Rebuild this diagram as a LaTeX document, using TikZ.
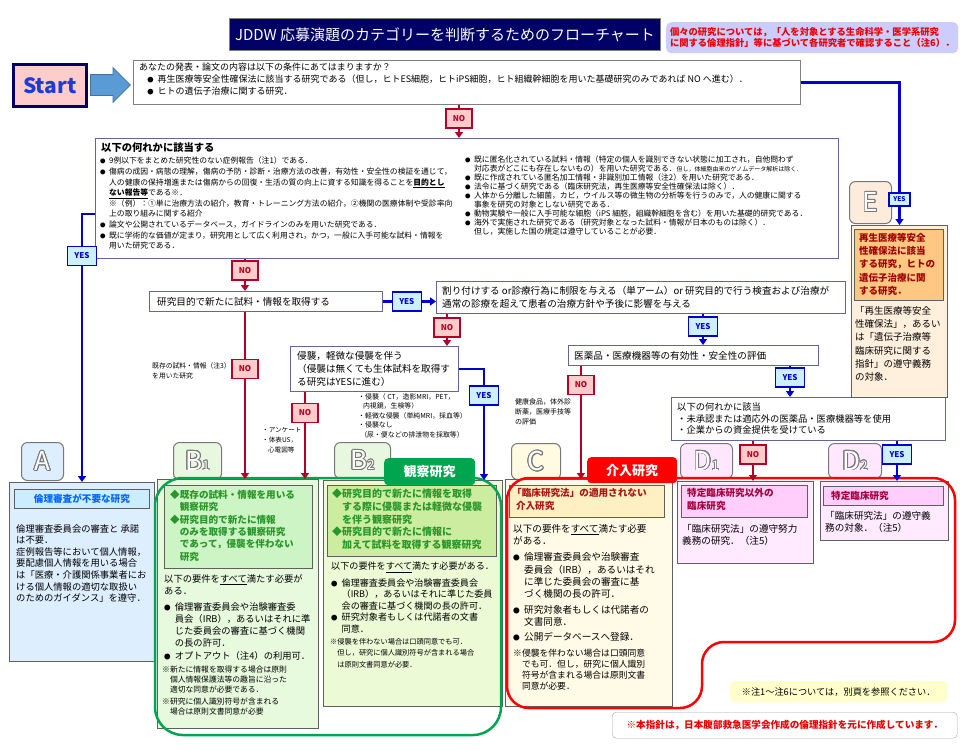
\documentclass[tikz,border=0pt]{standalone}
\usepackage{fontspec}
\setmainfont{Noto Sans CJK JP}
\usepackage{graphicx}
\usepackage{contour}
\usetikzlibrary{arrows.meta,shapes.arrows}
\contourlength{0.8pt}
\definecolor{navy}{RGB}{0,0,102}
\definecolor{startpink}{RGB}{255,204,204}
\definecolor{startblue}{RGB}{30,60,210}
\definecolor{notelav}{RGB}{204,204,255}
\definecolor{notered}{RGB}{235,0,0}
\definecolor{frame}{RGB}{100,100,160}
\definecolor{boxgray}{RGB}{128,128,128}
\definecolor{resgray}{RGB}{95,95,95}
\definecolor{tabgray}{RGB}{120,120,120}
\definecolor{nored}{RGB}{180,0,40}
\definecolor{nofill}{RGB}{255,204,204}
\definecolor{yesblue}{RGB}{0,0,210}
\definecolor{yesfill}{RGB}{204,240,255}
\definecolor{arrowblue}{RGB}{91,155,213}
\definecolor{arrowedge}{RGB}{65,113,156}
\definecolor{Atab}{RGB}{220,238,255}
\definecolor{Abox}{RGB}{221,238,255}
\definecolor{Ahead}{RGB}{204,236,255}
\definecolor{Atext}{RGB}{0,102,255}
\definecolor{Btab}{RGB}{232,248,224}
\definecolor{Bbox}{RGB}{232,250,222}
\definecolor{Bhead}{RGB}{204,244,196}
\definecolor{B2box}{RGB}{236,250,214}
\definecolor{B2head}{RGB}{204,236,160}
\definecolor{Btext}{RGB}{40,150,40}
\definecolor{Ctab}{RGB}{255,250,225}
\definecolor{Cbox}{RGB}{255,251,230}
\definecolor{Chead}{RGB}{255,240,196}
\definecolor{Ctext}{RGB}{170,20,20}
\definecolor{Dtab}{RGB}{255,232,255}
\definecolor{Dbox}{RGB}{255,234,255}
\definecolor{Dhead}{RGB}{255,206,250}
\definecolor{Dtext}{RGB}{160,0,60}
\definecolor{Etab}{RGB}{253,236,220}
\definecolor{Ebox}{RGB}{255,240,222}
\definecolor{Ehead}{RGB}{255,200,130}
\definecolor{Etext}{RGB}{160,0,0}
\definecolor{kgreen}{RGB}{0,165,80}
\definecolor{kred}{RGB}{255,0,0}
\definecolor{footy}{RGB}{255,255,204}
\newcommand{\fs}[2]{\fontsize{#1}{#2}\selectfont}
\newcommand{\bl}{\makebox[1.15em][l]{\scalebox{0.7}{●}}}
\newcommand{\ind}{\hspace*{1.15em}}
\newcommand{\dia}{\hspace*{1em}}
\newcommand{\tabl}[2]{\contour{tabgray}{#1{\fs{13}{13}#2}}}
\tikzset{
  box/.style={draw=frame, fill=white, line width=0.9pt, anchor=north west, inner sep=0pt},
  res/.style={draw=resgray, line width=1pt, anchor=north west, inner sep=0pt},
  head/.style={draw=resgray, line width=0.8pt, anchor=north west, inner sep=0pt},
  txt/.style={anchor=north west, inner sep=0pt, align=left},
  tab/.style={draw=tabgray, line width=1pt, rounded corners=6pt, anchor=north west, inner sep=0pt, text=white, font=\fs{26}{26}},
  nocon/.style={draw=nored, line width=2.4pt, -{Triangle[width=8pt,length=6pt]}},
  yescon/.style={draw=yesblue, line width=2.4pt, -{Triangle[width=8pt,length=6pt]}},
  nolab/.style={draw=nored, line width=1.4pt, fill=nofill, text=nored, font=\fs{8}{8}\bfseries, minimum width=26pt, minimum height=19pt, inner sep=0pt},
  yeslab/.style={draw=yesblue, line width=1.4pt, fill=yesfill, text=yesblue, font=\fs{8}{8}\bfseries, minimum width=29pt, minimum height=19pt, inner sep=0pt},
  side/.style={anchor=north west, inner sep=0pt, align=left, font=\fs{6.9}{9.5}}
}
\begin{document}
\begin{tikzpicture}[x=1pt,y=-1pt]
\useasboundingbox[fill=white] (0,0) rectangle (960,750);
% title, note, start
\node[anchor=north west, draw=boxgray, line width=1pt, fill=navy, minimum width=431pt, minimum height=32pt, inner sep=0pt, text=white, font=\fs{15}{15}] (title) at (229,18) {JDDW 応募演題のカテゴリーを判断するためのフローチャート};
\node[anchor=north west, fill=notelav, rounded corners=5pt, minimum width=292pt, minimum height=31pt, inner sep=0pt, text=notered, font=\fs{9.3}{11.5}\bfseries, align=left] (note) at (666,22) {個々の研究については，「人を対象とする生命科学・医学系研究\\に関する倫理指針」等に基づいて各研究者で確認すること（注6）．};
\node[anchor=north west, draw=navy, line width=2.5pt, fill=startpink, minimum width=73pt, minimum height=42pt, inner sep=0pt, text=startblue, font=\fs{21}{21}\bfseries] (start) at (12,63) {Start};
\node[single arrow, draw=arrowedge, fill=arrowblue, line width=0.8pt, minimum height=40pt, inner xsep=0pt, inner ysep=10pt, single arrow head extend=7pt, anchor=tail] (go) at (90,85) {};

% questions
\node[box, draw=boxgray, minimum width=667pt, minimum height=44pt] (q1) at (133,60) {};
\node[txt, font=\fs{9}{12}] (q1t) at (139,63) {あなたの発表・論文の内容は以下の条件にあてはまりますか？\\
\hspace*{0.9em}\bl 再生医療等安全性確保法に該当する研究である（但し，ヒトES細胞，ヒトiPS細胞，ヒト組織幹細胞を用いた基礎研究のみであれば NO へ進む）．\\
\hspace*{0.9em}\bl ヒトの遺伝子治療に関する研究．};

\node[box, line width=1.2pt, minimum width=743pt, minimum height=120pt] (big) at (95,138) {};
\node[txt, font=\fs{10.3}{10.3}\bfseries] (bigh) at (101,142) {以下の何れかに該当する};
\node[txt, font=\fs{7.8}{10.6}] (bigl) at (100,157) {\bl 9例以下をまとめた研究性のない症例報告（注1）である．\\
\bl 傷病の成因・病態の理解，傷病の予防・診断・治療方法の改善，有効性・安全性の検証を通じて，\\
\ind 人の健康の保持増進または傷病からの回復・生活の質の向上に資する知識を得ることを\underline{\textbf{目的とし}}\\
\ind \underline{\textbf{ない報告等}}である※．\\
\ind ※（例）：①単に治療方法の紹介，教育・トレーニング方法の紹介，②機関の医療体制や受診率向\\
\ind 上の取り組みに関する紹介\\
\bl 論文や公開されているデータベース，ガイドラインのみを用いた研究である．\\
\bl 既に学術的な価値が定まり，研究用として広く利用され，かつ，一般に入手可能な試料・情報を\\
\ind 用いた研究である．};
\node[txt, font=\fs{7.8}{9}] (bigr) at (465,156) {\bl 既に匿名化されている試料・情報（特定の個人を識別できない状態に加工され，自他問わず\\
\ind 対応表がどこにも存在しないもの）を用いた研究である．{\fs{6}{9}但し，体細胞由来のゲノムデータ解析は除く．}\\
\bl 既に作成されている匿名加工情報・非識別加工情報（注2）を用いた研究である．\\
\bl 法令に基づく研究である（臨床研究法，再生医療等安全性確保法は除く）．\\
\bl 人体から分離した細菌，カビ，ウイルス等の微生物の分析等を行うのみで，人の健康に関する\\
\ind 事象を研究の対象としない研究である．\\
\bl 動物実験や一般に入手可能な細胞（iPS 細胞，組織幹細胞を含む）を用いた基礎的研究である．\\
\bl 海外で実施された研究である（研究対象となった試料・情報が日本のものは除く）．\\
\ind 但し，実施した国の規定は遵守していることが必要．};

\node[box, minimum width=233pt, minimum height=20pt] (q2) at (149,291) {};
\node[anchor=west, inner sep=0pt, font=\fs{9.6}{9.6}] (q2t) at ([xshift=8pt]q2.west) {研究目的で新たに試料・情報を取得する};
\node[box, minimum width=409pt, minimum height=32pt] (q3) at (436,281) {};
\node[anchor=west, inner sep=0pt, align=left, font=\fs{9.6}{13}] (q3t) at ([xshift=6pt]q3.west) {割り付けする or診療行為に制限を与える（単アーム）or 研究目的で行う検査および治療が\\通常の診療を超えて患者の治療方針や予後に影響を与える};
\node[box, minimum width=168pt, minimum height=45pt] (q4) at (290,346) {};
\node[anchor=west, inner sep=0pt, align=left, font=\fs{9.6}{12.8}] (q4t) at ([xshift=7pt]q4.west) {侵襲，軽微な侵襲を伴う\\（侵襲は無くても生体試料を取得す\\る研究はYESに進む）};
\node[box, minimum width=250pt, minimum height=20pt] (q5) at (568,345) {};
\node[anchor=west, inner sep=0pt, font=\fs{9.6}{9.6}] (q5t) at ([xshift=6pt]q5.west) {医薬品・医療機器等の有効性・安全性の評価};
\node[box, minimum width=274pt, minimum height=43pt] (q6) at (671,397) {};
\node[anchor=west, inner sep=0pt, align=left, font=\fs{9.3}{11.5}] (q6t) at ([xshift=6pt]q6.west) {以下の何れかに該当\\・未承認または適応外の医薬品・医療機器等を使用\\・企業からの資金提供を受けている};

% side notes
\node[side, font=\fs{6.8}{10}] (s1) at (152,362) {既存の試料・情報（注3）\\を用いた研究};
\node[side, font=\fs{6.6}{10}] (s2) at (262,427) {・アンケート\\・体表US，\\\hspace*{.9em}心電図等};
\node[side] (s3) at (358,393) {・侵襲（ CT，造影MRI，PET，\\\hspace*{.7em}内視鏡，生検等）\\・軽微な侵襲（単純MRI，採血等）\\・侵襲なし\\\hspace*{.3em}（尿・便などの排泄物を採取等）};
\node[side, font=\fs{7}{10}] (s4) at (515,398) {健康食品，体外診\\断薬，医療手技等\\の評価};

% tabs
\node[tab, fill=Atab, minimum width=42pt, minimum height=38pt] (tA) at (21,442) {\contour{tabgray}{A}};
\node[tab, fill=Btab, minimum width=48pt, minimum height=37pt] (tB1) at (173,442) {\tabl{B}{1}};
\node[tab, fill=Btab, minimum width=56pt, minimum height=36pt] (tB2) at (334,442) {\tabl{B}{2}};
\node[tab, fill=Ctab, minimum width=49pt, minimum height=36pt] (tC) at (511,443) {\contour{tabgray}{C}};
\node[tab, fill=Dtab, minimum width=52pt, minimum height=35pt] (tD1) at (680,443) {\tabl{D}{1}};
\node[tab, fill=Dtab, minimum width=53pt, minimum height=35pt] (tD2) at (828,443) {\tabl{D}{2}};
\node[tab, fill=Etab, minimum width=42pt, minimum height=42pt] (tE) at (849,181) {\contour{tabgray}{E}};

% result boxes
\node[res, fill=Abox, minimum width=145pt, minimum height=179pt] (A) at (9,482) {};
\node[head, fill=Ahead, minimum width=135pt, minimum height=19pt, text=Atext, font=\fs{9.6}{9.6}\bfseries] (Ah) at (14,489) {倫理審査が不要な研究};
\node[txt, font=\fs{9.3}{11.6}] (At) at (16,524) {倫理審査委員会の審査と 承諾\\は不要．\\症例報告等において個人情報，\\要配慮個人情報を用いる場合\\は「医療・介護関係事業者にお\\ける個人情報の適切な取扱い\\のためのガイダンス」を遵守．};

\node[res, fill=Bbox, minimum width=161pt, minimum height=249pt] (B1) at (157,479) {};
\node[head, fill=Bhead, minimum width=148pt, minimum height=83pt] (B1h) at (164,485) {};
\node[txt, text=Btext, font=\fs{9.6}{12.3}\bfseries] (B1ht) at (170,490) {◆既存の試料・情報を用いる\\\dia 観察研究\\◆研究目的で新たに情報\\\dia のみを取得する観察研究\\\dia であって，侵襲を伴わない\\\dia 研究};
\node[txt, font=\fs{9.3}{12}] (B1t) at (164,574) {以下の要件を\underline{すべて}満たす必要が\\ある．\\[4pt]
\bl 倫理審査委員会や治験審査委\\\ind 員会（IRB），あるいはそれに準\\\ind じた委員会の審査に基づく機関\\\ind の長の許可．\\[1pt]
\bl オプトアウト（注4）の利用可．};
\node[txt, font=\fs{7.8}{10}] (B1n) at (162,666) {※新たに情報を取得する場合は原則\\\dia 個人情報保護法等の趣旨に沿った\\\dia 適切な同意が必要である．\\[2pt]※研究に個人識別符号が含まれる\\\dia 場合は原則文書同意が必要};

\node[res, fill=B2box, minimum width=179pt, minimum height=226pt] (B2) at (323,480) {};
\node[head, fill=B2head, minimum width=169pt, minimum height=71pt] (B2h) at (327,485) {};
\node[txt, text=Btext, font=\fs{10}{12.6}\bfseries] (B2ht) at (332,489) {◆研究目的で新たに情報を取得\\\dia する際に侵襲または軽微な侵襲\\\dia を伴う観察研究\\◆研究目的で新たに情報に\\\dia 加えて試料を取得する観察研究};
\node[txt, font=\fs{9.1}{11.5}] (B2t) at (331,562) {以下の要件を\underline{すべて}満たす必要がある．\\[5pt]
\bl 倫理審査委員会や治験審査委員会\\\ind （IRB），あるいはそれに準じた委員\\\ind 会の審査に基づく機関の長の許可．\\
\bl 研究対象者もしくは代諾者の文書\\\ind 同意．};
\node[txt, font=\fs{7.2}{11.5}] (B2n) at (330,638) {※侵襲を伴わない場合は口頭同意でも可．\\\dia 但し，研究に個人識別符号が含まれる場合\\\dia は原則文書同意が必要．};

\node[res, fill=Cbox, minimum width=167pt, minimum height=227pt] (C) at (505,479) {};
\node[head, fill=Chead, minimum width=155pt, minimum height=32pt] (Ch) at (509,485) {};
\node[txt, text=Ctext, font=\fs{9.6}{13.5}\bfseries] (Cht) at (512,488) {「臨床研究法」の適用されない\\\hspace*{.4em}介入研究};
\node[txt, font=\fs{9.6}{12.3}] (Ct) at (513,524) {以下の要件を\underline{すべて}満たす必要\\がある．\\[4pt]
\bl 倫理審査委員会や治験審査\\\ind 委員会（IRB），あるいはそれ\\\ind に準じた委員会の審査に基\\\ind づく機関の長の許可．\\[3pt]
\bl 研究対象者もしくは代諾者の\\\ind 文書同意．\\[3pt]
\bl 公開データベースへ登録．};
\node[txt, font=\fs{8.8}{11}] (Cn) at (513,649) {※侵襲を伴わない場合は口頭同意\\\dia でも可．但し，研究に個人識別\\\dia 符号が含まれる場合は原則文書\\\dia 同意が必要．};

\node[res, fill=Dbox, minimum width=136pt, minimum height=82pt] (D1) at (677,481) {};
\node[head, fill=Dhead, minimum width=126pt, minimum height=32pt] (D1h) at (681,485) {};
\node[txt, text=Dtext, font=\fs{9.6}{13}\bfseries] (D1ht) at (687,488) {特定臨床研究以外の\\臨床研究};
\node[txt, font=\fs{9.6}{12.5}] (D1t) at (682,524) {「臨床研究法」の遵守努力\\義務の研究．（注5）};
\node[res, fill=Dbox, minimum width=128pt, minimum height=59pt] (D2) at (820,481) {};
\node[head, fill=Dhead, minimum width=120pt, minimum height=19pt] (D2h) at (823,486) {};
\node[anchor=west, inner sep=0pt, text=Dtext, font=\fs{9.6}{9.6}\bfseries] (D2ht) at ([xshift=8pt]D2h.west) {特定臨床研究};
\node[txt, font=\fs{9.6}{12.5}] (D2t) at (825,511) {「臨床研究法」の遵守義\\務の対象．（注5）};

\node[res, fill=Ebox, minimum width=96pt, minimum height=172pt] (E) at (851,225) {};
\node[head, fill=Ehead, minimum width=89pt, minimum height=71pt] (Eh) at (854,229) {};
\node[txt, text=Etext, font=\fs{9.5}{13.2}\bfseries] (Eht) at (859,233) {再生医療等安全\\性確保法に該当\\する研究，ヒトの\\遺伝子治療に関\\する研究．};
\node[txt, font=\fs{9.5}{13.3}] (Et) at (855,306) {「再生医療等安全\\性確保法」，あるい\\は「遺伝子治療等\\臨床研究に関する\\指針」の遵守義務\\の対象．};

% group outlines
\draw[kgreen, line width=2.5pt, rounded corners=28pt] (155,478) rectangle (501,735);
\draw[kred, line width=2.5pt, rounded corners=22pt] (507,478) -- (955,478) -- (955,642) -- (702,642) -- (702,708) -- (507,708) -- cycle;
\node[anchor=north west, fill=kgreen, rounded corners=4pt, minimum width=91pt, minimum height=27pt, inner sep=0pt, text=white, font=\fs{13}{13}\bfseries] (kansatsu) at (384,458) {観察研究};
\node[anchor=north west, fill=kred, rounded corners=4pt, minimum width=90pt, minimum height=26pt, inner sep=0pt, text=white, font=\fs{13}{13}\bfseries] (kainyu) at (587,457) {介入研究};

% footer
\node[anchor=north west, fill=footy, rounded corners=4pt, minimum width=217pt, minimum height=21pt, inner sep=0pt, font=\fs{9.2}{9.2}] (foot1) at (730,681) {※注1～注6については，別頁を参照ください．};
\node[anchor=north west, draw=boxgray!70, fill=white, rounded corners=4pt, minimum width=345pt, minimum height=26pt, inner sep=0pt, text=notered, font=\fs{9.6}{9.6}\bfseries] (foot2) at (612,712) {※本指針は，日本腹部救急医学会作成の倫理指針を元に作成しています．};

% connectors
\draw[nocon] (q1.south -| 459,0) -- node[nolab, pos=0.41] (no1) {NO} (big.north -| 459,0);
\draw[yescon] (q1.east) -| node[yeslab, minimum width=21pt, minimum height=13pt, font=\fs{6.5}{6.5}\bfseries, pos=0.91] (yes1) {YES} (E.north);
\draw[yescon] (big.west |- 0,214) -| node[yeslab, pos=0.578] (yes2) {YES} (A.north);
\draw[nocon] (big.south -| 245,0) -- node[nolab, pos=0.36] (no2) {NO} (q2.north -| 245,0);
\draw[yescon] (q2.east) -- node[yeslab, pos=0.45] (yes3) {YES} (q3.west |- q2.east);
\draw[nocon] (q3.south -| 447,0) -- node[nolab, pos=0.42] (no3) {NO} (q4.north -| 447,0);
\draw[yescon] (q3.south -| 703,0) -- node[yeslab, pos=0.4] (yes4) {YES} (q5.north -| 703,0);
\draw[nocon] (q2.south -| 245,0) -- node[nolab, pos=0.34] (no4) {NO} (B1.north -| 245,0);
\draw[nocon] (q4.south -| 305,0) -- node[nolab, pos=0.24] (no5) {NO} (B1.north -| 305,0);
\draw[yescon] (q4.east) -| node[yeslab, pos=0.62] (yes5) {YES} (B2.north -| 484,0);
\draw[nocon] (q5.south -| 581,0) -- node[nolab, pos=0.167] (no6) {NO} (C.north -| 581,0);
\draw[yescon] (q5.south -| 790,0) -- node[yeslab, pos=0.375] (yes6) {YES} (q6.north -| 790,0);
\draw[nocon] (q6.south -| 753,0) -- node[nolab, pos=0.34] (no7) {NO} (D1.north -| 753,0);
\draw[yescon] (q6.south -| 897,0) -- node[yeslab, pos=0.34] (yes7) {YES} (D2.north -| 897,0);
\end{tikzpicture}
\end{document}
